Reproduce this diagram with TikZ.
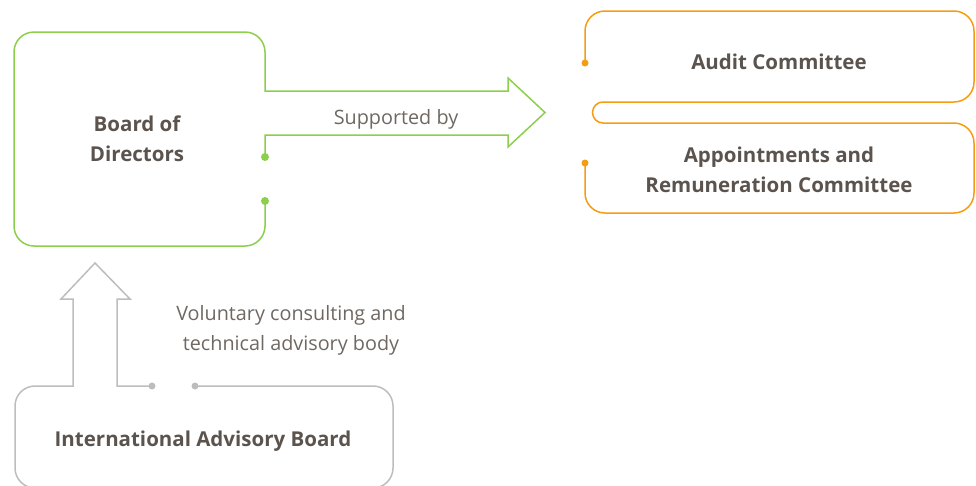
\documentclass[tikz,border=0pt]{standalone}
\usepackage{fontspec}
\setmainfont{Open Sans}
\definecolor{boardgreen}{HTML}{8CCF4D}
\definecolor{committeeorange}{HTML}{F49D12}
\definecolor{advisorygray}{HTML}{BDBDBD}
\definecolor{headtext}{HTML}{5B534D}
\definecolor{softtext}{HTML}{6F6862}

\begin{document}
\begin{tikzpicture}[x=1pt,y=-1pt,
	frame/.style={line width=1.5pt, line join=miter},
	title/.style={font=\bfseries\fontsize{20.5}{29.5}\selectfont, text=headtext, align=center},
	note/.style={font=\fontsize{19.8}{30}\selectfont, text=softtext, align=center}]
		\useasboundingbox (0,0) rectangle (976,485);
		\draw[frame, boardgreen] (265,157) -- (265,135) -- (508,135) -- (508,147) -- (545,112.5) -- (508,78) -- (508,91) -- (265,91) -- (265,80)
			[rounded corners=20pt] -- (265,32) -- (14,32) -- (14,246) -- (265,246) -- (265,201);
		\fill[boardgreen] (265,157) circle (4pt);
		\fill[boardgreen] (265,201) circle (4pt);
		\draw[frame, committeeorange, rounded corners=20pt] (585,63) -- (585,11) -- (974,11) -- (974,102) -- (625,102)
			[sharp corners] -- (603,102) arc (270:90:10.5) -- (625,123)
			[rounded corners=20pt] -- (974,123) -- (974,213) -- (585,213) -- (585,163);
		\fill[committeeorange] (585,63) circle (3.5pt);
		\fill[committeeorange] (585,163) circle (3.5pt);
		\draw[frame, advisorygray] (152,386) -- (117,386) -- (117,299) -- (130,299) -- (95,263) -- (61,299) -- (73,299) -- (73,386) -- (65,386)
			[rounded corners=20pt] -- (15,386) -- (15,488) -- (393,488) -- (393,386) -- (195,386);
		\fill[advisorygray] (152,386) circle (3.5pt);
		\fill[advisorygray] (195,386) circle (3.5pt);
		\node[title] (board) at (137,139) {Board of\\Directors};
		\node[note] (supported) at (396,119) {Supported by};
		\node[title] (audit) at (779,62) {Audit Committee};
		\node[title] (appointments) at (779,170) {Appointments and\\Remuneration Committee};
		\node[note] (voluntary) at (291,330) {Voluntary consulting and\\technical advisory body};
		\node[title] (advisory) at (203,441) {International Advisory Board};
\end{tikzpicture}
\end{document}
